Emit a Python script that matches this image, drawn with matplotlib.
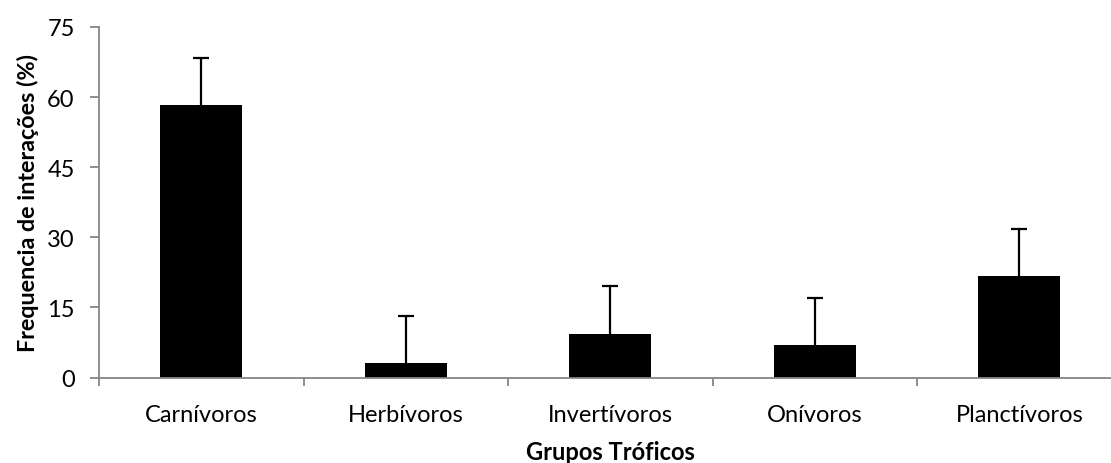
import matplotlib
matplotlib.use("Agg")
import matplotlib.pyplot as plt
import numpy as np

categories = ["Carnívoros", "Herbívoros", "Invertívoros", "Onívoros", "Planctívoros"]
frequencies = [58.3, 3.0, 9.4, 7.0, 21.7]
errors = [10.1, 10.1, 10.1, 10.1, 10.1]
y_ticks = [0, 15, 30, 45, 60, 75]

plt.rcParams["font.family"] = ["Lato", "DejaVu Sans"]

W, H = 1111, 464
fig = plt.figure(figsize=(W / 100, H / 100), dpi=100)
left, right, bottom, top = 99, 1121.5, 378.5, 28
ax = fig.add_axes([left / W, 1 - bottom / H, (right - left) / W, (bottom - top) / H])

x = np.arange(len(categories))
ax.bar(x, frequencies, width=0.4, color="black", zorder=2)
_, caps, _ = ax.errorbar(x, frequencies, yerr=[np.zeros(len(errors)), errors], fmt="none",
                         ecolor="black", elinewidth=1.6, capsize=6, capthick=1.6, zorder=3)
# only the upper whisker is shown
caps[0].set_visible(False)

ax.set_xlim(-0.5, len(categories) - 0.5)
ax.set_ylim(0, 75)
ax.set_yticks(y_ticks)

# category labels centred on bars, tick marks on the boundaries between groups
ax.set_xticks(x)
ax.set_xticklabels(categories, fontsize=17)
ax.set_xticks(np.arange(len(categories) + 1) - 0.5, minor=True)
ax.tick_params(axis="x", which="major", length=0, pad=19)
ax.tick_params(axis="x", which="minor", length=6, width=1.3, color="#868686", direction="out")
ax.tick_params(axis="y", which="major", length=6.5, width=1.3, color="#868686",
               direction="out", labelsize=17, pad=11)

for s in ["top", "right"]:
    ax.spines[s].set_visible(False)
for s in ["left", "bottom"]:
    ax.spines[s].set_color("#868686")
    ax.spines[s].set_linewidth(1.3)

ax.set_ylabel("Frequencia de interações (%)", fontsize=16.8, fontweight="bold", labelpad=6)
ax.set_xlabel("Grupos Tróficos", fontsize=17, fontweight="bold", labelpad=11)

fig.savefig("out.png", dpi=100)
